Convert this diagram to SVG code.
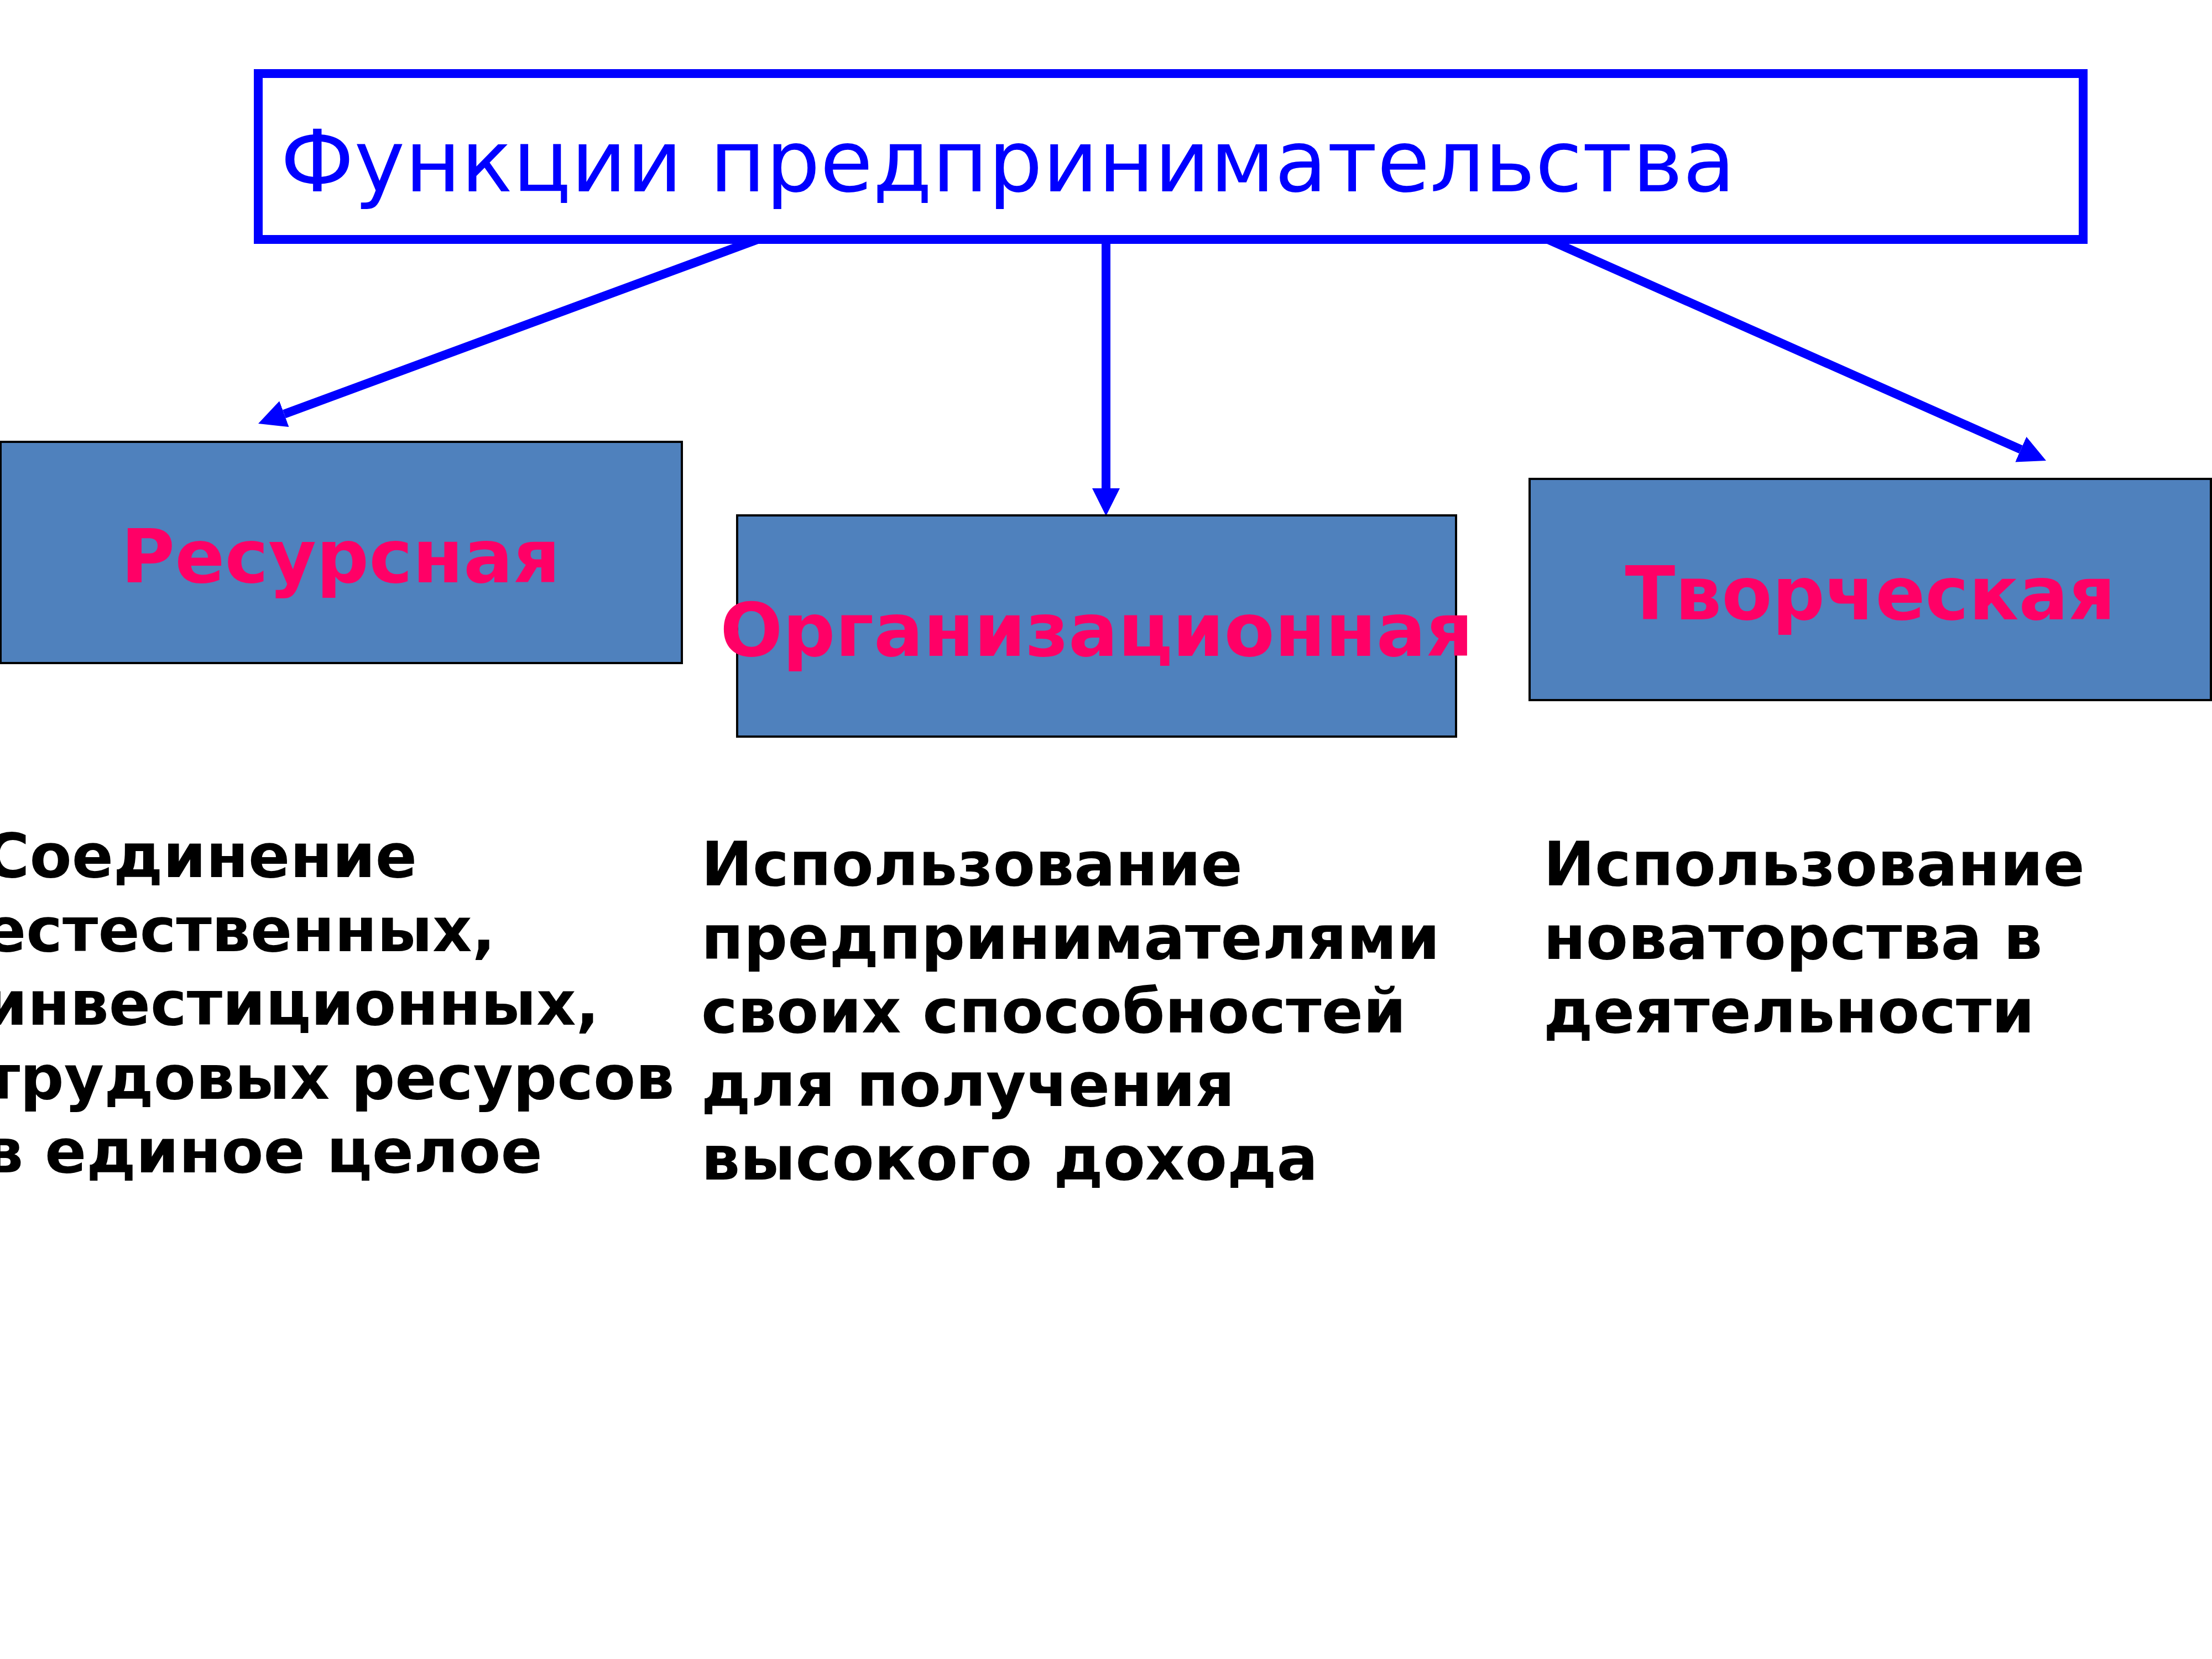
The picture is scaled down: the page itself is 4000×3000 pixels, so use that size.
<svg xmlns="http://www.w3.org/2000/svg" width="4000" height="3000" viewBox="0 0 4000 3000">
<style>
.title{font-family:"DejaVu Sans",sans-serif;font-size:155px;fill:#0000FF}
.box{fill:#4F81BD;stroke:#000000;stroke-width:4}
.lbl{font-family:"DejaVu Sans",sans-serif;font-weight:bold;font-size:133px;fill:#FF0066;text-anchor:middle}
.desc{font-family:"DejaVu Sans",sans-serif;font-weight:bold;font-size:111px;fill:#000000}
.conn{stroke:#0000FF;stroke-width:16;fill:none;marker-end:url(#ah)}
</style>
<defs>
<marker id="ah" viewBox="0 0 50 50" markerWidth="50" markerHeight="50" markerUnits="userSpaceOnUse" refX="0" refY="25" orient="auto">
<path d="M0,0 L50,25 L0,50 z" fill="#0000FF"/>
</marker>
</defs>
<rect width="4000" height="3000" fill="#FFFFFF"/>
<g id="connectors">
<line class="conn" x1="1370" y1="433" x2="513.9" y2="748.7"/>
<line class="conn" x1="2000" y1="433" x2="2000" y2="883"/>
<line class="conn" x1="2799" y1="433" x2="3654.3" y2="812.7"/>
</g>
<g id="title">
<rect x="467" y="133" width="3300" height="300" fill="#FFFFFF" stroke="#0000FF" stroke-width="16"/>
<text class="title" x="507" y="346">Функции предпринимательства</text>
</g>
<g id="resource">
<rect class="box" x="1" y="799" width="1232" height="400"/>
<text class="lbl" x="616" y="1053">Ресурсная</text>
</g>
<g id="organization">
<rect class="box" x="1333" y="932" width="1300" height="400"/>
<text class="lbl" x="1983" y="1186">Организационная</text>
</g>
<g id="creative">
<rect class="box" x="2766" y="866" width="1232" height="400"/>
<text class="lbl" x="3382" y="1120">Творческая</text>
</g>
<g id="desc-resource">
<text class="desc" x="-28" y="1586">Соединение</text>
<text class="desc" x="-28" y="1720">естественных,</text>
<text class="desc" x="-28" y="1853">инвестиционных,</text>
<text class="desc" x="-28" y="1987">трудовых ресурсов</text>
<text class="desc" x="-28" y="2120">в единое целое</text>
</g>
<g id="desc-organization">
<text class="desc" x="1268" y="1601">Использование</text>
<text class="desc" x="1268" y="1734">предпринимателями</text>
<text class="desc" x="1268" y="1867">своих способностей</text>
<text class="desc" x="1268" y="2000">для получения</text>
<text class="desc" x="1268" y="2133">высокого дохода</text>
</g>
<g id="desc-creative">
<text class="desc" x="2791" y="1601">Использование</text>
<text class="desc" x="2791" y="1734">новаторства в</text>
<text class="desc" x="2791" y="1867">деятельности</text>
</g>
</svg>
